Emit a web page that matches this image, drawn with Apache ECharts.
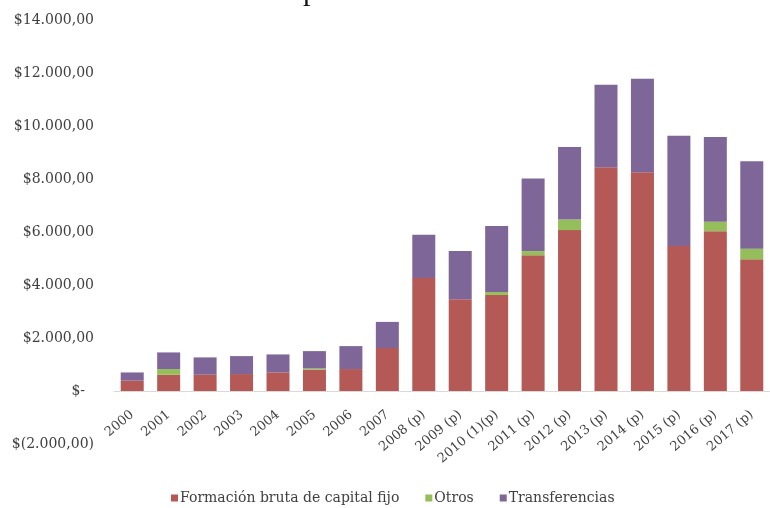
<!DOCTYPE html>
<html>
<head>
<meta charset="utf-8">
<script src="https://cdn.jsdelivr.net/npm/echarts@6/dist/echarts.min.js"></script>
<style>html,body{margin:0;padding:0;background:#fff;}#c{width:770px;height:508px;}</style>
</head>
<body>
<div id="c"></div>
<script>
const categories = ["2000","2001","2002","2003","2004","2005","2006","2007","2008 (p)","2009 (p)","2010 (1)(p)","2011 (p)","2012 (p)","2013 (p)","2014 (p)","2015 (p)","2016 (p)","2017 (p)"];
const formacion = [390, 613, 613, 640, 703, 800, 828, 1618, 4260, 3463, 3625, 5118, 6071, 8442, 8254, 5470, 6033, 4968];
const otros = [0, 215, 0, 0, 0, 50, 0, 0, 0, 0, 110, 162, 400, 0, 0, 0, 354, 403];
const transferencias = [310, 627, 655, 677, 677, 655, 866, 990, 1640, 1818, 2487, 2737, 2734, 3112, 3526, 4165, 3198, 3297];
const seriesNames = ["Formación bruta de capital fijo", "Otros", "Transferencias"];
const yTicks = {min: -2000, max: 14000, interval: 2000};

function fmt(n){
  const s = String(Math.round(n));
  return s.replace(/\B(?=(\d{3})+(?!\d))/g, ".") + ",00";
}
const FONT = "DejaVu Serif";
const chart = echarts.init(document.getElementById('c'), null, {renderer:'canvas'});
chart.setOption({
  animation:false,
  backgroundColor:'#ffffff',
  graphic:[{type:'text', left:303, top:-23, style:{text:'p', font:'30px "Liberation Serif"', fill:'#111'}}],
  grid:{left:114, width:669, top:20, bottom:64, containLabel:false},
  legend:{
    top:486, left:166, icon:'rect', itemWidth:7, itemHeight:7, itemGap:26,
    textStyle:{fontFamily:FONT, fontSize:14, color:'#404040', padding:[0,0,0,-3]},
    data:seriesNames
  },
  xAxis:{
    type:'category', data:categories,
    offset:-53,
    axisLine:{onZero:false, lineStyle:{color:'#d9d9d9', width:1}},
    axisTick:{show:false},
    axisLabel:{rotate:40, interval:0, fontFamily:FONT, fontSize:13, color:'#404040', margin:22}
  },
  yAxis:{
    type:'value', min:yTicks.min, max:yTicks.max, interval:yTicks.interval,
    splitLine:{show:false}, axisLine:{show:false}, axisTick:{show:false},
    axisLabel:{fontFamily:FONT, fontSize:14, color:'#404040', margin:20,
      formatter:function(v){ if(v===0) return '$-  '; if(v<0) return '$(' + fmt(-v) + ')'; return '$' + fmt(v); }}
  },
  series:[
    {name:seriesNames[0], type:'bar', stack:'t', barWidth:23, data:formacion, itemStyle:{color:'#B45956'}},
    {name:seriesNames[1], type:'bar', stack:'t', barWidth:23, data:otros, itemStyle:{color:'#94BE5A'}},
    {name:seriesNames[2], type:'bar', stack:'t', barWidth:23, data:transferencias, itemStyle:{color:'#7E6699'}}
  ]
});
</script>
</body>
</html>
